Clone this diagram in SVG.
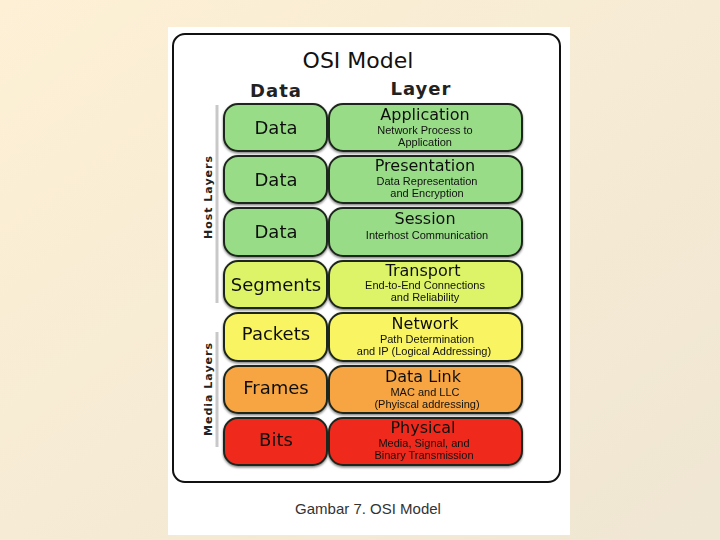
<svg xmlns="http://www.w3.org/2000/svg" width="720" height="540" viewBox="0 0 720 540">
<defs>
<linearGradient id="bg" x1="0" y1="0" x2="1" y2="1">
<stop offset="0" stop-color="#fdf0d5"/>
<stop offset="1" stop-color="#efe6d3"/>
</linearGradient>
<filter id="sh" x="-5%" y="-5%" width="110%" height="120%">
<feDropShadow dx="0" dy="1.5" stdDeviation="0.8" flood-color="#000" flood-opacity="0.5"/>
</filter>
</defs>
<style>
.box{stroke:#1e261c;stroke-width:2;}
.g{fill:#99dc88;}
.yg{fill:#ddf468;}
.y{fill:#f8f462;}
.o{fill:#f6a542;}
.r{fill:#ef2c1c;}
.lbl{font-family:"DejaVu Sans",sans-serif;font-size:18px;fill:#111;text-anchor:middle;}
.main{font-family:"DejaVu Sans",sans-serif;font-size:16px;fill:#111;text-anchor:middle;}
.sub{font-family:"Liberation Sans",Arial,sans-serif;font-size:11px;fill:#111;text-anchor:middle;}
.hdr{font-family:"DejaVu Sans",sans-serif;font-weight:bold;font-size:18px;fill:#222;text-anchor:middle;letter-spacing:1px;}
.side{font-family:"DejaVu Sans",sans-serif;font-weight:bold;font-size:11px;fill:#222;text-anchor:middle;letter-spacing:1px;}
.vline{stroke:#c8c8c8;stroke-width:3;}
</style>
<rect x="0" y="0" width="720" height="540" fill="url(#bg)"/>
<rect x="168" y="27" width="402" height="508" fill="#ffffff"/>
<rect x="173" y="34" width="387" height="448" rx="12" fill="#ffffff" stroke="#111" stroke-width="2"/>
<text x="358" y="68" font-family="DejaVu Sans,sans-serif" font-size="22" fill="#111" text-anchor="middle">OSI Model</text>
<text class="hdr" x="276" y="97">Data</text>
<text class="hdr" x="421" y="95">Layer</text>
<g id="side-labels">
<line class="vline" x1="217" y1="105" x2="217" y2="303"/>
<line class="vline" x1="217" y1="332" x2="217" y2="447"/>
<text class="side" transform="translate(212,197) rotate(-90)">Host Layers</text>
<text class="side" transform="translate(212,389) rotate(-90)">Media Layers</text>
</g>
<g id="row-application" filter="url(#sh)">
<rect class="box g" x="224" y="104" width="103" height="47" rx="14"/>
<rect class="box g" x="329" y="104" width="193" height="47" rx="14"/>
<text class="lbl" x="276" y="134">Data</text>
<text class="main" x="425" y="120">Application</text>
<text class="sub" x="425" y="134">Network Process to</text>
<text class="sub" x="425" y="146">Application</text>
</g>
<g id="row-presentation" filter="url(#sh)">
<rect class="box g" x="224" y="156" width="103" height="47" rx="14"/>
<rect class="box g" x="329" y="156" width="193" height="47" rx="14"/>
<text class="lbl" x="276" y="186">Data</text>
<text class="main" x="425" y="171">Presentation</text>
<text class="sub" x="427" y="185">Data Representation</text>
<text class="sub" x="427" y="197">and Encryption</text>
</g>
<g id="row-session" filter="url(#sh)">
<rect class="box g" x="224" y="208" width="103" height="48" rx="14"/>
<rect class="box g" x="329" y="208" width="193" height="48" rx="14"/>
<text class="lbl" x="276" y="238">Data</text>
<text class="main" x="425" y="224">Session</text>
<text class="sub" x="427" y="239">Interhost Communication</text>
</g>
<g id="row-transport" filter="url(#sh)">
<rect class="box yg" x="224" y="261" width="103" height="47" rx="14"/>
<rect class="box yg" x="329" y="261" width="193" height="47" rx="14"/>
<text class="lbl" x="276" y="291">Segments</text>
<text class="main" x="423" y="276">Transport</text>
<text class="sub" x="425" y="289">End-to-End Connections</text>
<text class="sub" x="425" y="301">and Reliability</text>
</g>
<g id="row-network" filter="url(#sh)">
<rect class="box y" x="224" y="313" width="103" height="48" rx="14"/>
<rect class="box y" x="329" y="313" width="193" height="48" rx="14"/>
<text class="lbl" x="276" y="340">Packets</text>
<text class="main" x="425" y="329">Network</text>
<text class="sub" x="427" y="343">Path Determination</text>
<text class="sub" x="424" y="355">and IP (Logical Addressing)</text>
</g>
<g id="row-datalink" filter="url(#sh)">
<rect class="box o" x="224" y="366" width="103" height="47" rx="14"/>
<rect class="box o" x="329" y="366" width="193" height="47" rx="14"/>
<text class="lbl" x="276" y="394">Frames</text>
<text class="main" x="423" y="382">Data Link</text>
<text class="sub" x="425" y="396">MAC and LLC</text>
<text class="sub" x="427" y="408">(Phyiscal addressing)</text>
</g>
<g id="row-physical" filter="url(#sh)">
<rect class="box r" x="224" y="418" width="103" height="47" rx="14"/>
<rect class="box r" x="329" y="418" width="193" height="47" rx="14"/>
<text class="lbl" x="276" y="446">Bits</text>
<text class="main" x="423" y="433">Physical</text>
<text class="sub" x="424" y="447">Media, Signal, and</text>
<text class="sub" x="424" y="459">Binary Transmission</text>
</g>
<text x="368" y="514" font-family="Liberation Sans,Arial,sans-serif" font-size="15" fill="#333" text-anchor="middle">Gambar 7. OSI Model</text>
</svg>
